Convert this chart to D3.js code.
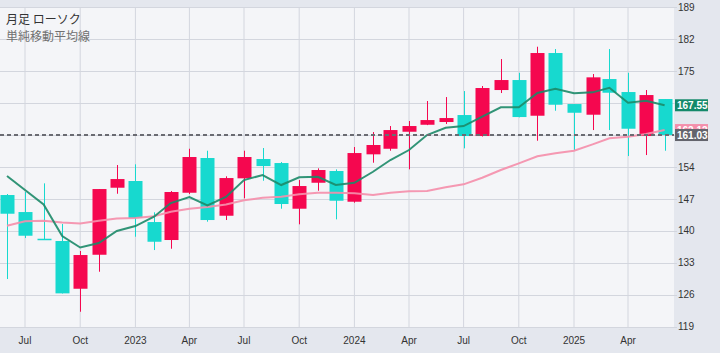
<!DOCTYPE html>
<html>
<head>
<meta charset="utf-8">
<script src="https://cdn.jsdelivr.net/npm/d3@7"></script>
<style>
  html, body { margin: 0; padding: 0; background: #e4e7ee; }
  svg { display: block; font-family: "Liberation Sans", Arial, sans-serif; }
</style>
</head>
<body>
<div id="chart"></div>
<script>
// monthly candles, Jun 2022 - Jun 2025
const months = ["2022-06","2022-07","2022-08","2022-09","2022-10","2022-11","2022-12",
  "2023-01","2023-02","2023-03","2023-04","2023-05","2023-06","2023-07","2023-08","2023-09","2023-10","2023-11","2023-12",
  "2024-01","2024-02","2024-03","2024-04","2024-05","2024-06","2024-07","2024-08","2024-09","2024-10","2024-11","2024-12",
  "2025-01","2025-02","2025-03","2025-04","2025-05","2025-06"];
const open  = [147.88,144.15,138.30,137.80,127.34,134.79,149.48,150.95,141.96,138.02,148.38,155.99,143.34,151.54,155.77,154.89,144.88,150.57,153.14,146.41,156.80,158.02,161.75,163.28,163.88,165.41,160.81,170.89,173.08,165.26,179.00,167.82,165.48,173.30,170.45,160.81,168.92];
const high  = [148.10,148.54,150.44,141.52,135.61,149.19,154.45,154.61,144.09,148.75,158.02,157.59,151.98,157.59,158.18,155.11,151.16,153.73,153.50,158.40,161.68,163.00,164.10,168.48,169.35,170.67,171.77,177.68,174.68,180.38,179.87,167.82,174.40,179.87,174.68,170.89,168.92];
const low   = [129.47,138.45,138.02,126.30,122.30,131.07,148.16,138.74,135.82,136.11,148.10,142.03,142.40,147.15,151.01,144.88,141.46,148.82,142.55,146.20,154.96,157.59,153.51,163.20,163.44,158.11,160.70,170.23,164.90,159.78,166.35,157.74,162.12,162.12,156.42,156.64,157.59];
const close = [143.78,138.96,138.12,126.33,134.73,149.19,151.38,142.84,137.64,148.54,156.21,142.40,151.60,156.21,154.23,145.91,149.85,153.36,146.63,157.08,158.84,162.12,163.00,164.31,164.75,160.81,171.33,173.08,164.97,179.00,167.67,165.91,173.67,170.30,162.41,169.79,161.03];
// simple moving averages (short / long)
const sma5  = [152.04,148.97,145.80,138.89,136.37,137.36,139.99,141.08,143.12,146.12,147.44,145.58,147.44,151.16,152.26,150.07,151.76,151.89,150.07,150.57,152.98,155.55,157.74,161.03,162.63,163.00,165.04,167.10,167.10,170.23,171.17,170.17,170.38,171.39,168.11,168.54,167.55];
const sma24 = [141.15,142.11,142.22,141.85,141.63,142.22,142.73,142.84,143.21,144.22,144.85,145.25,145.80,146.72,147.26,147.51,148.03,148.38,148.38,148.25,147.88,148.38,148.69,148.75,149.57,150.22,151.67,153.36,154.82,156.36,157.02,157.59,158.99,160.30,160.65,161.25,162.12];
const yTicks = [119,126,133,140,147,154,161,168,175,182,189];
const lastPrice = 161.03;

const width = 720, height = 353;
const plotRight = 674, plotTop = 7, plotBottom = 327;
const upColor = "#f5074f", downColor = "#17d9cf";
const greenColor = "#1c8a68", pinkColor = "#f48fab";

const parse = d3.timeParse("%Y-%m");
const data = months.map((m, i) => ({
  date: parse(m), open: open[i], high: high[i], low: low[i], close: close[i],
  s5: sma5[i], s24: sma24[i]
}));

const x = d3.scaleTime()
  .domain([new Date(2022, 6, 1), new Date(2025, 3, 1)])
  .range([25, 628]);
const y = d3.scaleLinear().domain([119, 189]).range([326.8, 7.4]);

const svg = d3.select("#chart").append("svg")
  .attr("width", width).attr("height", height);

svg.append("rect").attr("width", width).attr("height", height).attr("fill", "#e4e7ee");
svg.append("rect").attr("x", 0).attr("y", plotTop)
  .attr("width", plotRight).attr("height", plotBottom - plotTop).attr("fill", "#f4f5f8");

// grid
const xTicks = x.ticks(d3.timeMonth.every(3));
svg.append("g").selectAll("line").data(xTicks).enter().append("line")
  .attr("x1", d => x(d)).attr("x2", d => x(d))
  .attr("y1", plotTop).attr("y2", plotBottom)
  .attr("stroke", "#d3d6de").attr("stroke-width", 1);
svg.append("g").selectAll("line").data(yTicks).enter().append("line")
  .attr("x1", 0).attr("x2", 677)
  .attr("y1", d => Math.round(y(d)) + 0.5).attr("y2", d => Math.round(y(d)) + 0.5)
  .attr("stroke", "#d3d6de").attr("stroke-width", 1);

// axis labels (ticks hidden under the price labels are skipped, like the original)
const labelValues = [sma5[sma5.length - 1], lastPrice];
const visibleTicks = yTicks.filter(t => labelValues.every(v => Math.abs(y(t) - y(v)) > 8));
svg.append("g").selectAll("text").data(visibleTicks).enter().append("text")
  .attr("x", 678).attr("y", d => y(d)).attr("dy", "0.35em")
  .attr("font-size", 10).attr("fill", "#333")
  .text(d => d);

const fmtX = d => d.getMonth() === 0 ? d3.timeFormat("%Y")(d) : d3.timeFormat("%b")(d);
svg.append("g").selectAll("text").data(xTicks).enter().append("text")
  .attr("x", d => x(d)).attr("y", 340).attr("dy", "0.35em")
  .attr("text-anchor", "middle").attr("font-size", 10).attr("fill", "#333")
  .text(fmtX);

// candles
const bw = 14;
const candles = svg.append("g").selectAll("g").data(data).enter().append("g");
candles.append("line")
  .attr("x1", d => Math.round(x(d.date)) + 0.5).attr("x2", d => Math.round(x(d.date)) + 0.5)
  .attr("y1", d => y(d.high)).attr("y2", d => y(d.low))
  .attr("stroke", d => d.close >= d.open ? upColor : downColor).attr("stroke-width", 1);
candles.append("rect")
  .attr("x", d => Math.round(x(d.date)) - bw / 2 + 0.5)
  .attr("y", d => y(Math.max(d.open, d.close)))
  .attr("width", bw)
  .attr("height", d => Math.max(1.5, Math.abs(y(d.open) - y(d.close))))
  .attr("fill", d => d.close >= d.open ? upColor : downColor);

// moving averages
const line24 = d3.line().x(d => x(d.date)).y(d => y(d.s24));
const line5 = d3.line().x(d => x(d.date)).y(d => y(d.s5));
svg.append("path").datum(data).attr("d", line24)
  .attr("fill", "none").attr("stroke", pinkColor).attr("stroke-width", 2).attr("opacity", 0.92);
svg.append("path").datum(data).attr("d", line5)
  .attr("fill", "none").attr("stroke", greenColor).attr("stroke-width", 2).attr("opacity", 0.9);

// last price line
svg.append("line")
  .attr("x1", 0).attr("x2", plotRight)
  .attr("y1", y(lastPrice)).attr("y2", y(lastPrice))
  .attr("stroke", "#6a6b72").attr("stroke-width", 2).attr("stroke-dasharray", "4,3");

// price labels on right axis
function priceLabel(v, bg) {
  const g = svg.append("g");
  g.append("rect").attr("x", 675).attr("y", y(v) - 6).attr("width", 33).attr("height", 12)
    .attr("fill", bg);
  g.append("text").attr("x", 677).attr("y", y(v)).attr("dy", "0.36em")
    .attr("font-size", 10).attr("font-weight", "bold").attr("fill", "#fff")
    .text(v.toFixed(2));
}
priceLabel(sma24[sma24.length - 1], pinkColor);
priceLabel(sma5[sma5.length - 1], "#14896a");
priceLabel(lastPrice, "#63646c");

// titles
svg.append("text").attr("x", 6).attr("y", 24)
  .attr("font-family", "'Noto Sans CJK JP', sans-serif")
  .attr("font-size", 12).attr("fill", "#333").text("月足 ローソク");
svg.append("text").attr("x", 6).attr("y", 41)
  .attr("font-family", "'Noto Sans CJK JP', sans-serif")
  .attr("font-size", 12).attr("fill", "#707070").text("単純移動平均線");
</script>
</body>
</html>
